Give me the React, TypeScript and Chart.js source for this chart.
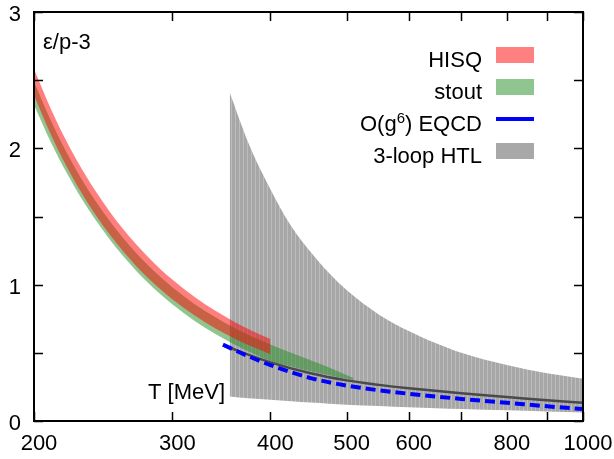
import { useEffect, useRef } from 'react';
import { Chart, registerables } from 'chart.js';

Chart.register(...registerables);

const FONT = '"Liberation Sans", Arial, Helvetica, sans-serif';

// HISQ band (T in MeV)
const hisqT = [200, 210, 220, 230, 240, 250, 260, 270, 280, 290, 300, 320, 340, 360, 380, 400];
const hisqUpper = [2.581, 2.292, 2.052, 1.85, 1.679, 1.532, 1.404, 1.294, 1.197, 1.112, 1.037, 0.911, 0.81, 0.727, 0.658, 0.601];
const hisqLower = [2.39, 2.105, 1.869, 1.672, 1.506, 1.364, 1.241, 1.136, 1.044, 0.964, 0.893, 0.775, 0.681, 0.605, 0.542, 0.49];

// stout band
const stoutT = [200, 210, 220, 230, 240, 250, 260, 270, 280, 290, 300, 320, 340, 360, 380, 400, 425, 450, 475, 510];
const stoutUpper = [2.491, 2.207, 1.971, 1.773, 1.606, 1.463, 1.338, 1.231, 1.137, 1.054, 0.981, 0.859, 0.762, 0.682, 0.616, 0.561, 0.5, 0.445, 0.392, 0.315];
const stoutLower = [2.32, 2.048, 1.822, 1.63, 1.468, 1.328, 1.206, 1.101, 1.009, 0.928, 0.856, 0.736, 0.64, 0.561, 0.495, 0.441, 0.4, 0.365, 0.335, 0.3];

// 3-loop HTL band and central curve
const htlT = [355, 375, 400, 425, 450, 475, 500, 550, 600, 650, 700, 800, 900, 1000];
const htlUpper = [2.41, 2.04, 1.7, 1.43, 1.24, 1.085, 0.96, 0.78, 0.66, 0.57, 0.5, 0.41, 0.35, 0.31];
const htlLower = [0.18, 0.167, 0.155, 0.145, 0.135, 0.127, 0.12, 0.11, 0.1, 0.094, 0.088, 0.078, 0.07, 0.063];
const htlCentralT = [350, 400, 450, 500, 550, 600, 700, 800, 900, 1000];
const htlCentral = [0.55, 0.43, 0.35, 0.298, 0.265, 0.24, 0.203, 0.176, 0.152, 0.133];

// O(g^6) EQCD
const eqcdT = [348, 375, 400, 450, 500, 550, 600, 700, 800, 900, 1000];
const eqcdValues = [0.56, 0.475, 0.41, 0.315, 0.26, 0.225, 0.2, 0.162, 0.134, 0.108, 0.088];

// axes
const xTicks = [200, 300, 400, 500, 600, 700, 800, 900, 1000];
const xTickLabels = ['200', '300', '400', '500', '600', '', '800', '', '1000'];
const yTicks = [0, 0.5, 1, 1.5, 2, 2.5, 3];
const yTickLabels = ['0', '', '1', '', '2', '', '3'];

const legendItems = ['HISQ', 'stout', 'O(g6) EQCD', '3-loop HTL'];

const pts = (xs: number[], ys: number[]) => xs.map((x, i) => ({ x, y: ys[i] }));

function makeGrayPattern(): CanvasPattern | string {
  const c = document.createElement('canvas');
  c.width = 4;
  c.height = 1;
  const g = c.getContext('2d');
  if (!g) return '#aaaaaa';
  g.fillStyle = '#a7a7a7';
  g.fillRect(0, 0, 4, 1);
  g.fillStyle = '#bdbdbd';
  g.fillRect(3, 0, 1, 1);
  const p = g.createPattern(c, 'repeat');
  return p || '#aaaaaa';
}

const framePlugin = {
  id: 'frameAndLabels',
  afterDraw(chart: any) {
    const { ctx, chartArea } = chart;
    const { left, right, top, bottom } = chartArea;
    const xs = chart.scales.x;
    const ys = chart.scales.y;
    ctx.save();
    ctx.strokeStyle = '#000';
    ctx.lineWidth = 1.5;
    const tl = 9;
    ctx.beginPath();
    xTicks.forEach((v) => {
      const px = Math.round(xs.getPixelForValue(v)) + 0.5;
      ctx.moveTo(px, bottom);
      ctx.lineTo(px, bottom - tl);
      ctx.moveTo(px, top);
      ctx.lineTo(px, top + tl);
    });
    yTicks.forEach((v) => {
      const py = Math.round(ys.getPixelForValue(v)) + 0.5;
      ctx.moveTo(left, py);
      ctx.lineTo(left + tl, py);
      ctx.moveTo(right, py);
      ctx.lineTo(right - tl, py);
    });
    ctx.stroke();
    ctx.lineWidth = 2;
    ctx.strokeRect(left, top, right - left, bottom - top);

    ctx.fillStyle = '#000';
    ctx.font = `22px ${FONT}`;
    ctx.textBaseline = 'alphabetic';
    ctx.textAlign = 'left';
    ctx.fillText('ε/p-3', left + 9, 49);
    ctx.textAlign = 'right';
    ctx.fillText('T [MeV]', 225, 399);

    // legend
    const textRight = 482;
    const swL = 496;
    const swR = 534;
    const rowY = [55, 87, 119, 151];
    const swatchColors = ['#ff8080', '#90c590', '', '#a8a8a8'];
    legendItems.forEach((label, i) => {
      const cy = rowY[i];
      const base = cy + 12;
      ctx.font = `22px ${FONT}`;
      ctx.textAlign = 'left';
      if (label.startsWith('O(g')) {
        const a = 'O(g';
        const sup = '6';
        const b = ') EQCD';
        const wb = ctx.measureText(b).width;
        const wa = ctx.measureText(a).width;
        ctx.font = `15px ${FONT}`;
        const ws = ctx.measureText(sup).width;
        ctx.fillText(sup, textRight - wb - ws, base - 8);
        ctx.font = `22px ${FONT}`;
        ctx.fillText(b, textRight - wb, base);
        ctx.fillText(a, textRight - wb - ws - wa, base);
        ctx.strokeStyle = '#0000ff';
        ctx.lineWidth = 4;
        ctx.beginPath();
        ctx.moveTo(swL, cy);
        ctx.lineTo(swR, cy);
        ctx.stroke();
      } else {
        ctx.textAlign = 'right';
        ctx.fillText(label, textRight, base);
        ctx.fillStyle = swatchColors[i];
        ctx.fillRect(swL, cy - 8, swR - swL, 16);
        ctx.fillStyle = '#000';
      }
    });
    ctx.restore();
  },
};

export default function App() {
  const ref = useRef<HTMLCanvasElement | null>(null);
  useEffect(() => {
    if (!ref.current) return;
    const gray = makeGrayPattern();
    const band = { pointRadius: 0, borderWidth: 0, borderColor: 'rgba(0,0,0,0)', cubicInterpolationMode: 'monotone' as const };
    const chart = new Chart(ref.current, {
      type: 'line',
      data: {
        datasets: [
          { ...band, label: '3-loop HTL', data: pts(htlT, htlUpper), backgroundColor: gray, fill: '+1', order: 5 },
          { ...band, label: 'HTL lower', data: pts(htlT, htlLower), fill: false, order: 5 },
          { ...band, label: 'stout', data: pts(stoutT, stoutUpper), backgroundColor: 'rgba(34,139,34,0.5)', fill: '+1', order: 4 },
          { ...band, label: 'stout lower', data: pts(stoutT, stoutLower), fill: false, order: 4 },
          { ...band, label: 'HISQ', data: pts(hisqT, hisqUpper), backgroundColor: 'rgba(255,0,0,0.5)', fill: '+1', order: 3 },
          { ...band, label: 'HISQ lower', data: pts(hisqT, hisqLower), fill: false, order: 3 },
          {
            label: 'HTL central', data: pts(htlCentralT, htlCentral), borderColor: '#4a4a4a', borderWidth: 2.5,
            pointRadius: 0, fill: false, cubicInterpolationMode: 'monotone', order: 2,
          },
          {
            label: 'O(g6) EQCD', data: pts(eqcdT, eqcdValues), borderColor: '#0000ff', borderWidth: 4,
            borderDash: [10, 5], pointRadius: 0, fill: false, cubicInterpolationMode: 'monotone', order: 1,
          },
        ],
      },
      options: {
        responsive: false,
        animation: false,
        layout: { padding: { top: 12, right: 31, left: 0, bottom: 0 } },
        plugins: { legend: { display: false }, tooltip: { enabled: false } },
        scales: {
          x: {
            type: 'logarithmic',
            min: 200,
            max: 1000,
            afterBuildTicks: (s: any) => { s.ticks = xTicks.map((v) => ({ value: v })); },
            afterFit: (s: any) => {
              s.height = 38;
              s.paddingLeft = 0;
              s.paddingRight = 0;
              s.paddingTop = 0;
              s.paddingBottom = 0;
            },
            ticks: {
              autoSkip: false,
              maxRotation: 0,
              minRotation: 0,
              labelOffset: 5,
              padding: 10,
              color: '#000',
              font: { family: FONT, size: 22 },
              callback: (_v: any, i: number) => xTickLabels[i],
            },
            grid: { drawOnChartArea: false, drawTicks: false },
            border: { display: false },
          },
          y: {
            type: 'linear',
            min: 0,
            max: 3,
            afterBuildTicks: (s: any) => { s.ticks = yTicks.map((v) => ({ value: v })); },
            afterFit: (s: any) => {
              s.width = 34;
              s.paddingLeft = 0;
              s.paddingRight = 0;
              s.paddingTop = 0;
              s.paddingBottom = 0;
            },
            ticks: {
              padding: 13,
              labelOffset: 3,
              color: '#000',
              font: { family: FONT, size: 22 },
              callback: (_v: any, i: number) => yTickLabels[i],
            },
            grid: { drawOnChartArea: false, drawTicks: false },
            border: { display: false },
          },
        },
      },
      plugins: [framePlugin],
    });
    return () => chart.destroy();
  }, []);
  return (
    <div style={{ position: 'absolute', left: 0, top: 0, width: 614, height: 459, background: '#fff' }}>
      <canvas ref={ref} width={614} height={459} style={{ display: 'block' }} />
    </div>
  );
}
